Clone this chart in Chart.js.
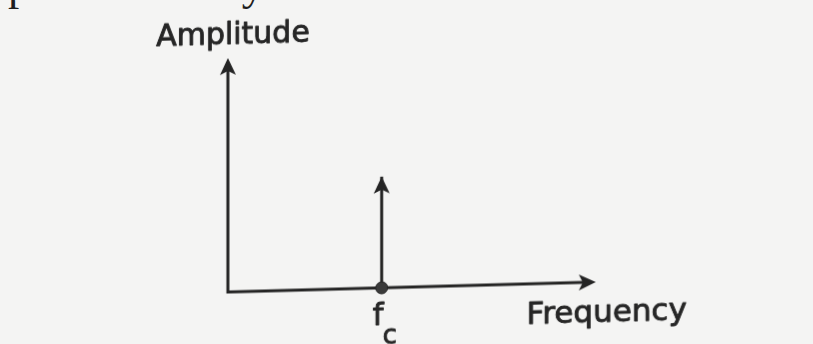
<!DOCTYPE html>
<html>
<head>
<meta charset="utf-8">
<title>Spectrum of a carrier</title>
<script src="https://cdn.jsdelivr.net/npm/chart.js@4"></script>
<style>
  html, body { margin: 0; padding: 0; overflow: hidden; background: #f4f4f3; }
  body { width: 813px; height: 344px; position: relative; }
  /* running text of the page, cut by the top edge */
  .page-text {
    position: absolute; left: -17px; top: -37px;
    font: 45px "Liberation Serif", serif; line-height: 45px;
    color: #1e1e1e; white-space: nowrap;
  }
  /* the printed figure sits slightly askew on the page */
  #spectrum {
    position: absolute; left: 0; top: 0;
    transform: skewY(-1.55deg); transform-origin: 228px 292px;
  }
</style>
</head>
<body>
<div class="page-text">Spectrum analyzer</div>
<canvas id="spectrum" width="813" height="352"></canvas>
<script>
// single carrier line
const carrierFreq = [4.18];
const carrierAmp = [4.75];
const carrierLabel = ['f', 'c'];   // symbol + subscript
const axisTitles = ['Frequency', 'Amplitude'];
const freqRange = [0, 10];
const ampRange = [0, 10];

const INK = '#242424';
const TEXT = '#262626';

// filled dart-shaped arrowhead, tip at (x, y), pointing along angle
function arrowHead(ctx, x, y, angle) {
  const len = 17, half = 8, notch = 4;
  ctx.save();
  ctx.translate(x, y);
  ctx.rotate(angle);
  ctx.beginPath();
  ctx.moveTo(0, 0);
  ctx.lineTo(-len, -half);
  ctx.lineTo(-len + notch, 0);
  ctx.lineTo(-len, half);
  ctx.closePath();
  ctx.fillStyle = INK;
  ctx.fill();
  ctx.restore();
}

// print-weight text: fill plus a thin outline of the same colour
function inkText(ctx, str, x, y, font, align) {
  ctx.save();
  ctx.font = font;
  ctx.textAlign = align;
  ctx.textBaseline = 'alphabetic';
  ctx.fillStyle = TEXT;
  ctx.strokeStyle = TEXT;
  ctx.lineWidth = 0.9;
  ctx.lineJoin = 'round';
  ctx.fillText(str, x, y);
  ctx.strokeText(str, x, y);
  ctx.restore();
}

const axesPlugin = {
  id: 'arrowAxes',
  beforeDatasetsDraw(chart) {
    const { ctx, scales: { x, y } } = chart;
    const x0 = x.getPixelForValue(freqRange[0]);
    const x1 = x.getPixelForValue(freqRange[1]);
    const y0 = y.getPixelForValue(ampRange[0]);
    const y1 = y.getPixelForValue(ampRange[1]);
    ctx.save();
    ctx.strokeStyle = INK;
    ctx.lineWidth = 3;
    ctx.lineJoin = 'miter';
    ctx.beginPath();
    ctx.moveTo(x0, y1 + 10);
    ctx.lineTo(x0, y0);
    ctx.lineTo(x1 - 10, y0);
    ctx.stroke();
    ctx.restore();
    arrowHead(ctx, x0, y1, -Math.PI / 2);
    arrowHead(ctx, x1, y0, 0);

    // axis titles
    inkText(ctx, axisTitles[1], x0 + 5, y1 - 14, '30px "DejaVu Sans", sans-serif', 'center');
    inkText(ctx, axisTitles[0], x1 + 91, y0 + 40, '31px "DejaVu Sans", sans-serif', 'right');
  },
  afterDatasetsDraw(chart) {
    const { ctx, scales: { x, y } } = chart;
    carrierFreq.forEach((f, i) => {
      const px = x.getPixelForValue(f);
      const py = y.getPixelForValue(carrierAmp[i]);
      const base = y.getPixelForValue(0);
      arrowHead(ctx, px, py, -Math.PI / 2);
      inkText(ctx, carrierLabel[0], px - 9, base + 37, '31px "DejaVu Sans", sans-serif', 'left');
      inkText(ctx, carrierLabel[1], px + 1, base + 56, '26px "DejaVu Sans", sans-serif', 'left');
    });
  }
};

const spikes = carrierFreq.map((f, i) => ({
  data: [{ x: f, y: 0 }, { x: f, y: carrierAmp[i] }],
  showLine: true,
  borderColor: INK,
  borderWidth: 3,
  pointRadius: [6, 0],
  pointBackgroundColor: '#3a3a3a',
  pointBorderColor: INK,
  pointBorderWidth: 1,
  clip: false
}));

new Chart(document.getElementById('spectrum'), {
  type: 'scatter',
  data: { datasets: spikes },
  options: {
    responsive: false,
    animation: false,
    layout: { padding: { left: 228, right: 217, top: 58, bottom: 60 } },
    plugins: { legend: { display: false }, tooltip: { enabled: false } },
    scales: {
      x: { type: 'linear', min: freqRange[0], max: freqRange[1], display: false },
      y: { type: 'linear', min: ampRange[0], max: ampRange[1], display: false }
    }
  },
  plugins: [axesPlugin]
});
</script>
</body>
</html>
